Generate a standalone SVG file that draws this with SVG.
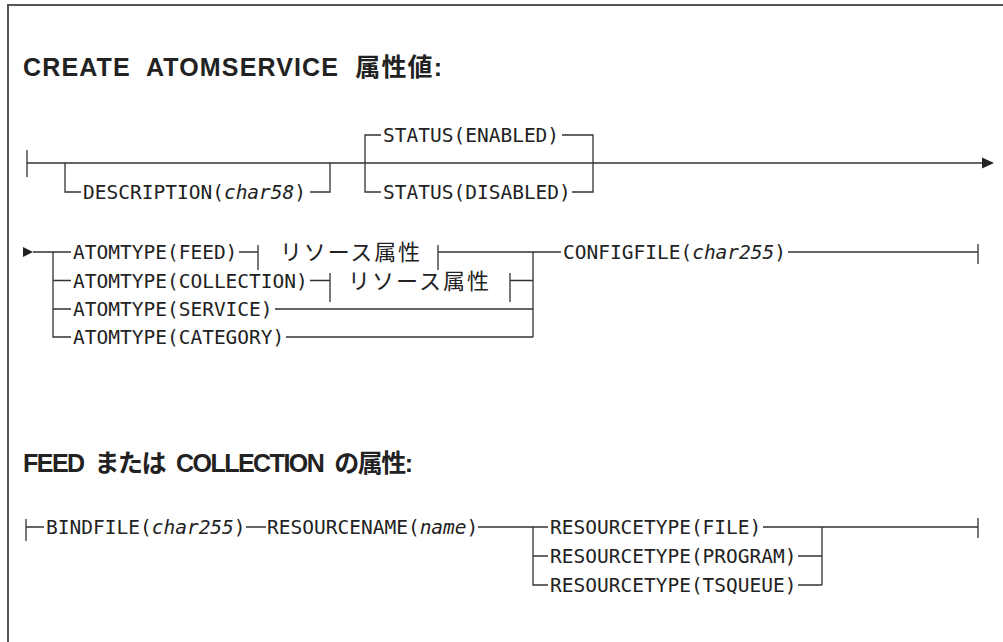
<svg xmlns="http://www.w3.org/2000/svg" width="1003" height="642" viewBox="0 0 1003 642">
<style>
.ln{fill:none;stroke:#333;stroke-width:1.3}
.fr{fill:none;stroke:#555;stroke-width:2}
.t{font-family:"DejaVu Sans Mono","Liberation Mono",monospace;font-size:19.5px;fill:#222}
.i{font-style:italic}
.j{font-family:"Noto Sans CJK JP","Noto Sans",sans-serif;font-size:22px;fill:#222}
.h{font-family:"Liberation Sans","Noto Sans CJK JP",sans-serif;font-weight:bold;font-size:25px;fill:#222}
.hj{font-family:"Noto Sans CJK JP",sans-serif}
.ar{fill:#222}
</style>
<rect width="1003" height="642" fill="#fff"/>
<path class="fr" d="M8 642 V5 H1003"/>
<g id="title1"><text class="h" x="23" y="76" textLength="419" xml:space="preserve">CREATE  ATOMSERVICE  <tspan class="hj">属性値</tspan>:</text></g>
<g id="title2"><text class="h" x="23" y="472" textLength="390" xml:space="preserve">FEED  <tspan class="hj">または</tspan>  COLLECTION  <tspan class="hj">の属性</tspan>:</text></g>
<g id="connectors">
<path class="ln" d="M27 150 V177 M27 163 H984"/>
<polygon class="ar" points="982,157.5 994,163 982,168.5"/>
<path class="ln" d="M65 163 V192 H81 M310 192 H330 V163"/>
<path class="ln" d="M365 163 V135 H381 M562 135 H593 V192 H572 M365 163 V192 H381"/>
<polygon class="ar" points="23,247 33,252 23,257"/>
<path class="ln" d="M33 252 H71 M53 252 V337 H71 M53 280.5 H71 M53 309 H71"/>
<path class="ln" d="M239 252 H258 M258 245 V270 M438 245 V270 M438 252 H533"/>
<path class="ln" d="M310 280.5 H330 M330 273 V302 M510 273 V302 M510 280.5 H533"/>
<path class="ln" d="M275 309 H533 M286 337 H533 M533 252 V337"/>
<path class="ln" d="M533 252 H561 M788 252 H978 M978 244 V264"/>
<path class="ln" d="M26 519 V541 M26 527 H44 M246 527 H266 M478 527 H548 M533 527 V585 H548 M533 556 H548"/>
<path class="ln" d="M763 527 H978 M798 556 H822 M798 585 H822 M822 527 V585 M978 518 V538"/>
</g>
<g id="description"><text class="t" x="83" y="199">DESCRIPTION(<tspan class="i">char58</tspan>)</text></g>
<g id="status-enabled"><text class="t" x="383" y="142">STATUS(ENABLED)</text></g>
<g id="status-disabled"><text class="t" x="383" y="199">STATUS(DISABLED)</text></g>
<g id="atom-feed"><text class="t" x="73" y="259">ATOMTYPE(FEED)</text></g>
<g id="ref-feed"><text class="j" x="280" y="260" textLength="140">リソース属性</text></g>
<g id="atom-collection"><text class="t" x="73" y="287.5">ATOMTYPE(COLLECTION)</text></g>
<g id="ref-collection"><text class="j" x="348" y="289" textLength="141">リソース属性</text></g>
<g id="atom-service"><text class="t" x="73" y="316">ATOMTYPE(SERVICE)</text></g>
<g id="atom-category"><text class="t" x="73" y="344">ATOMTYPE(CATEGORY)</text></g>
<g id="configfile"><text class="t" x="563" y="259">CONFIGFILE(<tspan class="i">char255</tspan>)</text></g>
<g id="bindfile"><text class="t" x="46" y="534">BINDFILE(<tspan class="i">char255</tspan>)</text></g>
<g id="resourcename"><text class="t" x="267" y="534">RESOURCENAME(<tspan class="i">name</tspan>)</text></g>
<g id="rt-file"><text class="t" x="550" y="534">RESOURCETYPE(FILE)</text></g>
<g id="rt-program"><text class="t" x="550" y="563">RESOURCETYPE(PROGRAM)</text></g>
<g id="rt-tsqueue"><text class="t" x="550" y="592">RESOURCETYPE(TSQUEUE)</text></g>
</svg>
